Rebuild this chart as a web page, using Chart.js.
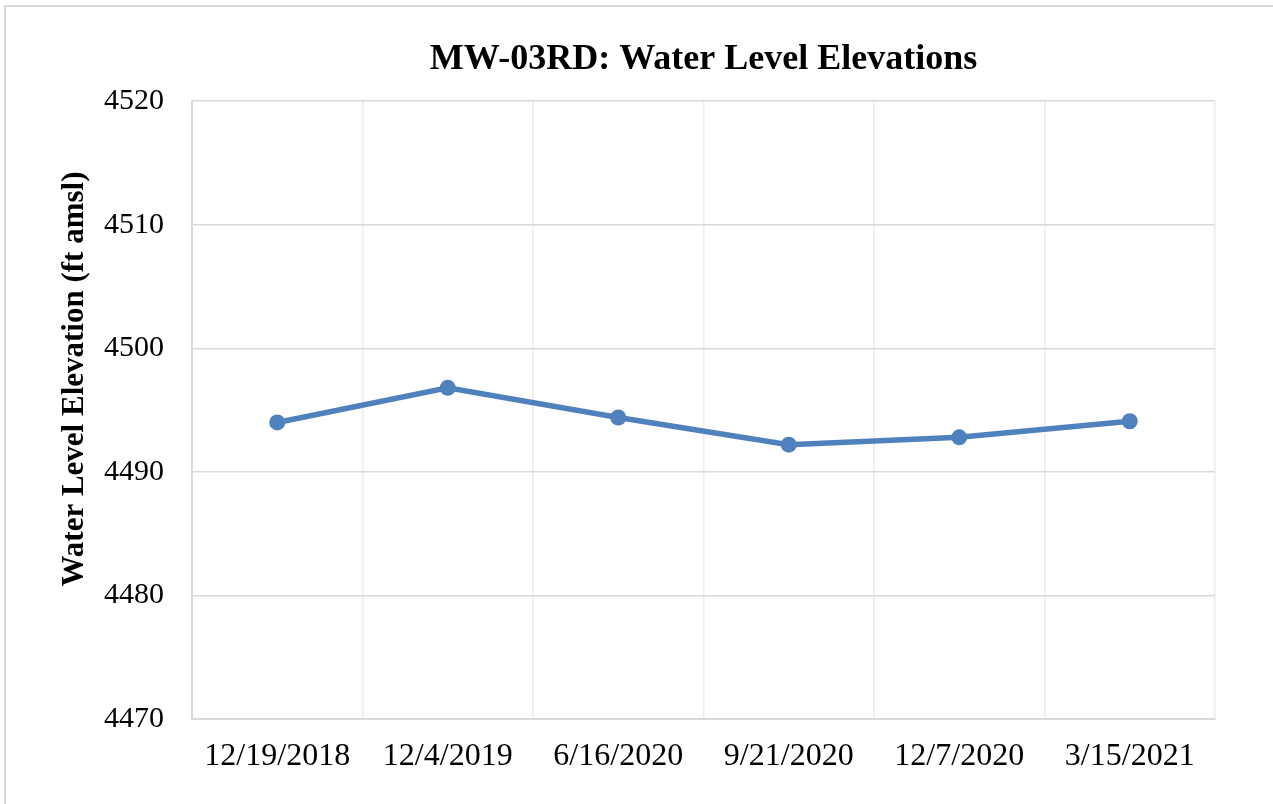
<!DOCTYPE html>
<html>
<head>
<meta charset="utf-8">
<title>MW-03RD Water Levels</title>
<script src="https://cdn.jsdelivr.net/npm/chart.js@4.4.1/dist/chart.umd.min.js"></script>
<style>
  html, body { margin: 0; padding: 0; background: #fff; overflow: hidden; }
  #frame {
    position: absolute; left: 4px; top: 5px;
    width: 1300px; height: 830px;
    border: 2px solid #d9d9d9; box-sizing: border-box;
  }
  #myChart { position: absolute; left: 0; top: 0; }
</style>
</head>
<body>
<div id="frame"></div>
<canvas id="myChart" width="1273" height="804"></canvas>
<script>
// sampling dates and measured elevations (ft amsl)
const sampleDates = ["12/19/2018", "12/4/2019", "6/16/2020", "9/21/2020", "12/7/2020", "3/15/2021"];
const waterLevels = [4494.0, 4496.8, 4494.4, 4492.2, 4492.8, 4494.1];
const yMin = 4470;
const yMax = 4520;
const yStep = 10;

const serif = "'Liberation Serif', 'Times New Roman', serif";

// vertical axis caption, placed by hand like the spreadsheet does
const yCaption = {
  id: "yCaption",
  afterDraw(chart) {
    const ctx = chart.ctx;
    ctx.save();
    ctx.translate(75, 379);
    ctx.rotate(-Math.PI / 2);
    ctx.font = "bold 31px " + serif;
    ctx.fillStyle = "#000";
    ctx.textAlign = "center";
    ctx.textBaseline = "middle";
    ctx.fillText("Water Level Elevation (ft amsl)", 0, 0);
    ctx.restore();
  }
};

function initChart(target) {
  const data = {
    labels: sampleDates,
    datasets: [{
      label: "MW-03RD",
      data: waterLevels,
      borderColor: "#4f81bd",
      backgroundColor: "#4f81bd",
      borderWidth: 5.5,
      pointRadius: 8,
      pointBorderWidth: 0,
      pointBackgroundColor: "#4f81bd",
      tension: 0
    }]
  };

  const config = {
    type: "line",
    data: data,
    options: {
      responsive: false,
      animation: false,
      devicePixelRatio: 1,
      layout: {
        padding: { left: 0, right: 58, top: 0, bottom: 0 }
      },
      plugins: {
        legend: { display: false },
        tooltip: { enabled: false },
        title: {
          display: true,
          fullSize: false, // center over the plot, not the whole canvas
          text: "MW-03RD: Water Level Elevations",
          color: "#000",
          font: { family: serif, size: 36, weight: "bold" },
          padding: { top: 38, bottom: 20 }
        }
      },
      scales: {
        x: {
          type: "category",
          offset: true,
          grid: { offset: true, color: "#ececec", lineWidth: 1.5, drawTicks: false },
          border: { color: "#d9d9d9", width: 2 },
          ticks: {
            color: "#000",
            font: { family: serif, size: 32 },
            padding: 18,
            maxRotation: 0,
            autoSkip: false
          },
          afterFit(scale) { scale.height = 85; }
        },
        y: {
          min: yMin,
          max: yMax,
          grid: { color: "#d9d9d9", lineWidth: 1.5, drawTicks: false },
          border: { color: "#d9d9d9", width: 2 },
          ticks: {
            stepSize: yStep,
            color: "#000",
            font: { family: serif, size: 30 },
            padding: 28,
            callback: (value) => String(value) // no thousands separator
          },
          afterFit(scale) { scale.width = 192; }
        }
      }
    },
    plugins: [yCaption]
  };

  return new Chart(target, config);
}

document.addEventListener("DOMContentLoaded", () => {
  initChart(document.querySelector("#myChart"));
});
</script>
</body>
</html>
